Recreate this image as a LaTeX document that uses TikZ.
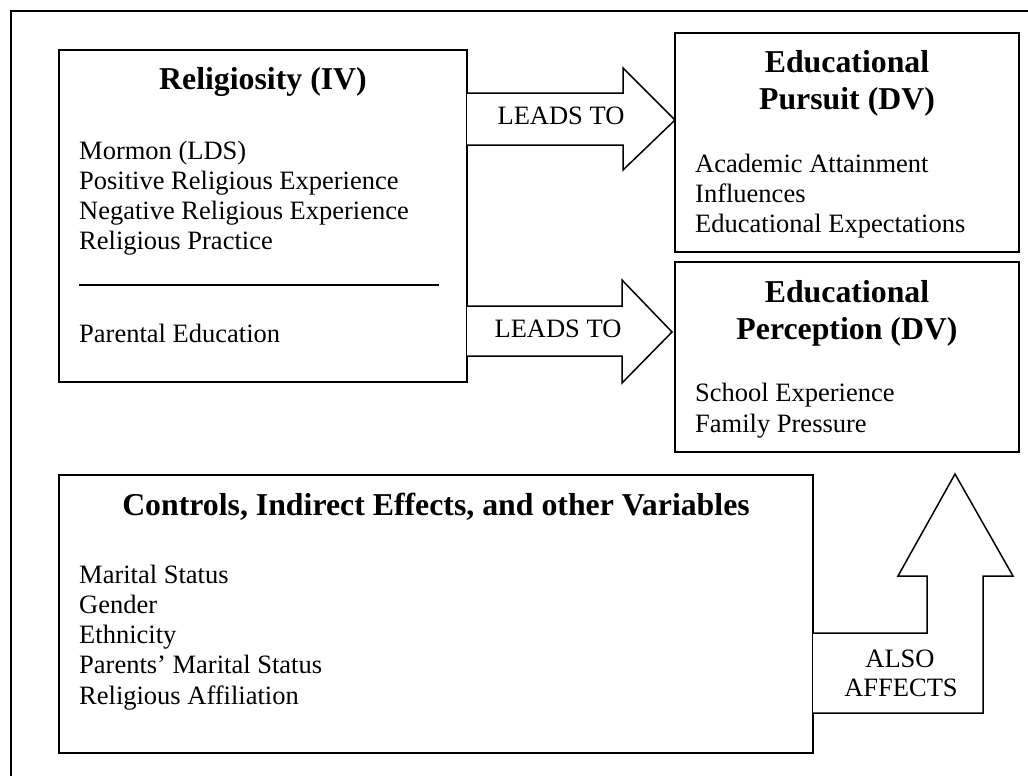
\documentclass[tikz,border=0pt]{standalone}
\usepackage{fontspec}
\setmainfont{Liberation Serif}
\begin{document}
\begin{tikzpicture}[x=1pt,y=-1pt,
  box/.style={draw,line width=1.8pt,rectangle,inner sep=0pt,outer sep=0pt,anchor=north west},
  blockarrow/.style={draw,line width=1.5pt,line join=miter,fill=white},
  frameline/.style={draw,line width=1.8pt},
  title/.style={font=\fontsize{31.8}{37}\selectfont\bfseries,inner sep=0pt,anchor=base},
  item/.style={font=\fontsize{26.5}{30}\selectfont,inner sep=0pt,anchor=base west},
  lbl/.style={font=\fontsize{26.5}{30}\selectfont,inner sep=0pt,anchor=base}]
\useasboundingbox (0,0) rectangle (1028,776);
% outer frame (cut by the picture edges)
\coordinate (fA) at (11,776);
\coordinate (fB) at (11,11);
\coordinate (fC) at (1028,11);
\draw[frameline] (fA) -- (fB) -- (fC);
% boxes
\node[box,minimum width=408pt,minimum height=332pt] (rel) at (59,50) {};
\node[box,minimum width=344pt,minimum height=219pt] (pur) at (675,33) {};
\node[box,minimum width=344pt,minimum height=190pt] (per) at (675,262) {};
\node[box,minimum width=754pt,minimum height=278pt] (con) at (59,475) {};
% block arrows
\draw[blockarrow] (467,93) -- (623,93) -- (623,68) -- (675,120) -- (623,170) -- (623,145) -- (467,145);
\draw[blockarrow] (467,306) -- (622,306) -- (622,280) -- (672,332) -- (622,383) -- (622,356) -- (467,356);
\draw[blockarrow] (813,633) -- (927,633) -- (927,576) -- (898,576) -- (955,474) -- (1013,576) -- (983,576) -- (983,713) -- (813,713);
% arrow labels
\node[lbl] (l1) at (561,124) {LEADS TO};
\node[lbl] (l2) at (558,337) {LEADS TO};
\node[lbl] (l3a) at (900,667) {ALSO};
\node[lbl] (l3b) at (901,696) {AFFECTS};
% Religiosity
\node[title] (relt) at (263,89) {Religiosity (IV)};
\node[item] (r1) at (79,159) {Mormon (LDS)};
\node[item] (r2) at (79,189) {Positive Religious Experience};
\node[item] (r3) at (79,219) {Negative Religious Experience};
\node[item] (r4) at (79,249) {Religious Practice};
\coordinate (u1) at (79,285);
\coordinate (u2) at (439,285);
\draw[line width=1.1pt] (u1) -- (u2);
\node[item] (r5) at (79,342) {Parental Education};
% Educational Pursuit
\node[title] (purt1) at (847,73) {Educational};
\node[title] (purt2) at (847,110) {Pursuit (DV)};
\node[item] (p1) at (695,172) {Academic Attainment};
\node[item] (p2) at (695,202) {Influences};
\node[item] (p3) at (695,232) {Educational Expectations};
% Educational Perception
\node[title] (pert1) at (847,302) {Educational};
\node[title] (pert2) at (847,339) {Perception (DV)};
\node[item] (e1) at (695,401) {School Experience};
\node[item] (e2) at (695,432) {Family Pressure};
% Controls
\node[title] (cont) at (436,515) {Controls, Indirect Effects, and other Variables};
\node[item] (c1) at (79,583) {Marital Status};
\node[item] (c2) at (79,613) {Gender};
\node[item] (c3) at (79,643) {Ethnicity};
\node[item] (c4) at (79,673) {Parents’ Marital Status};
\node[item] (c5) at (79,704) {Religious Affiliation};
\end{tikzpicture}
\end{document}
